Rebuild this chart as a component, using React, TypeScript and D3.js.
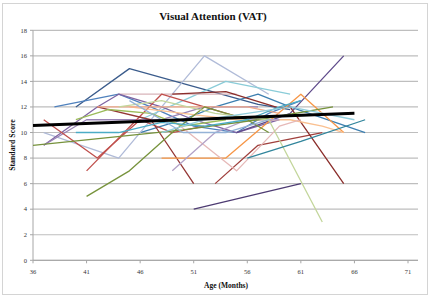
import React from "react";
import * as d3 from "d3";

// Age (months) and VAT standard score per child, one entry per child
const ageSeries: number[][] = [
  [40, 45, 57, 60],
  [38, 44, 47, 51, 55, 58, 61],
  [46, 50, 53, 57, 60, 67],
  [37, 44, 52, 58],
  [46, 50, 54, 60],
  [44, 55],
  [37, 42, 44, 48, 51, 55, 59],
  [37, 41, 44, 48, 52, 57],
  [51, 61],
  [55, 60, 65],
  [37, 42, 46, 49, 52],
  [41, 48, 52, 56],
  [42, 47, 51],
  [53, 57, 63],
  [49, 54, 59, 60, 65],
  [48, 54, 61, 65],
  [45, 50, 55, 60, 63, 65],
  [49, 55, 59, 61],
  [42, 48, 52, 56, 59],
  [49, 53, 56, 59],
  [41, 45, 49, 52, 56, 58],
  [36, 50, 57, 64],
  [44, 48, 53, 58, 63],
  [40, 43, 47, 50, 54],
  [56, 61, 67],
  [40, 44, 48, 52, 56, 59, 61],
  [48, 52, 56, 60, 66],
  [45, 48, 50, 54, 58],
];

const scoreSeries: number[][] = [
  [12, 15, 12.2, 11.8],
  [12, 13, 12, 10.5, 10, 11.5, 12.5],
  [10, 11, 12, 13, 12, 10],
  [10, 8, 16, 13],
  [11, 12.5, 14, 13],
  [13, 13],
  [9, 12, 13, 12, 11, 10, 11],
  [9, 11, 11, 11, 12, 12],
  [4, 6],
  [10, 11.5, 16],
  [11, 8, 11, 10, 10.5],
  [7, 13, 12, 11],
  [12, 11, 6],
  [6, 9, 10],
  [13, 13.2, 11.9, 12, 6],
  [8, 8, 13, 10],
  [12, 11.5, 11, 11, 10.5, 10],
  [11, 7, 10.5, 11],
  [12, 12, 12, 12, 11.5],
  [7, 10, 11, 11],
  [5, 7, 10, 12, 11, 10],
  [9, 10.2, 11, 12],
  [12, 12.5, 11.5, 11, 3],
  [11, 11.8, 11.5, 10.5, 11],
  [8, 9.3, 11],
  [10, 10, 10.8, 10.5, 11, 12, 12.5],
  [10, 11, 11.5, 12, 11],
  [12.5, 11, 10, 10, 11],
];

const seriesColors: string[] = [
  "#3B5C8C", "#4F81BD", "#3D7FB0", "#B0BBD8", "#8ACCD8", "#D8B4BA",
  "#8064A2", "#9983B5", "#4D3B72", "#5F4B8B", "#C0504D", "#C0504D",
  "#953735", "#A0403D", "#8B2E2B", "#F79646", "#FAC090", "#E6B9B8",
  "#F2A989", "#B3A2C7", "#77933C", "#76923C", "#C3D69B", "#9BBB59",
  "#31859C", "#4BACC6", "#92CDDC", "#95B3D7",
];

// Linear trend across all children
const trendAges = [36, 66];
const trendScores = [10.55, 11.5];

const xTicks = [36, 41, 46, 51, 56, 61, 66, 71];
const yTicks = [0, 2, 4, 6, 8, 10, 12, 14, 16, 18];

const W = 431;
const H = 297;
const plotLeft = 33;
const plotRight = 418;
const plotTop = 30.3;
const plotBottom = 260.3;

export default function App() {
  const x = d3.scaleLinear().domain([36, 71]).range([plotLeft, 408]);
  const y = d3.scaleLinear().domain([0, 18]).range([plotBottom, plotTop]);

  const line = d3
    .line<[number, number]>()
    .x((d) => x(d[0]))
    .y((d) => y(d[1]));

  const serif = "'Liberation Serif', 'Times New Roman', serif";

  return (
    <svg
      width={W}
      height={H}
      viewBox={`0 0 ${W} ${H}`}
      style={{ position: "absolute", left: 0, top: 0, background: "#fff" }}
    >
      <rect x={0} y={0} width={W} height={H} fill="#fff" />
      <rect x={2.5} y={3.5} width={425} height={291} fill="none" stroke="#D4D4D4" strokeWidth={1} />

      {/* horizontal gridlines */}
      {yTicks.map((t) => (
        <line
          key={`g${t}`}
          x1={plotLeft}
          x2={plotRight}
          y1={y(t)}
          y2={y(t)}
          stroke="#BEBEBE"
          strokeWidth={1.2}
        />
      ))}

      {/* axes */}
      <line x1={plotLeft} x2={plotLeft} y1={plotTop} y2={plotBottom} stroke="#A6A6A6" strokeWidth={1} />
      <line x1={plotLeft} x2={plotRight} y1={plotBottom} y2={plotBottom} stroke="#A6A6A6" strokeWidth={1} />
      {yTicks.map((t) => (
        <line key={`yt${t}`} x1={plotLeft - 3} x2={plotLeft} y1={y(t)} y2={y(t)} stroke="#A6A6A6" />
      ))}
      {xTicks.map((t) => (
        <line key={`xt${t}`} x1={x(t)} x2={x(t)} y1={plotBottom} y2={plotBottom + 3} stroke="#A6A6A6" />
      ))}

      {/* tick labels */}
      {yTicks.map((t) => (
        <text
          key={`yl${t}`}
          x={27}
          y={y(t)}
          dy="0.35em"
          textAnchor="end"
          fontFamily={serif}
          fontSize={6.5}
          fill="#333"
        >
          {t}
        </text>
      ))}
      {xTicks.map((t) => (
        <text
          key={`xl${t}`}
          x={x(t)}
          y={274}
          textAnchor="middle"
          fontFamily={serif}
          fontSize={6.5}
          fill="#333"
        >
          {t}
        </text>
      ))}

      {/* individual trajectories */}
      {ageSeries.map((ages, i) => {
        const pts = ages.map((a, j) => [a, scoreSeries[i][j]] as [number, number]);
        return (
          <path
            key={`s${i}`}
            d={line(pts) ?? ""}
            fill="none"
            stroke={seriesColors[i]}
            strokeWidth={1.3}
            strokeLinejoin="round"
          />
        );
      })}

      {/* trend line */}
      <path
        d={line(trendAges.map((a, j) => [a, trendScores[j]] as [number, number])) ?? ""}
        fill="none"
        stroke="#000"
        strokeWidth={3}
      />

      {/* titles */}
      <text x={213} y={20} textAnchor="middle" fontFamily={serif} fontWeight="bold" fontSize={11} fill="#111">
        Visual Attention (VAT)
      </text>
      <text
        x={0}
        y={0}
        transform={`translate(14.5, 145) rotate(-90)`}
        textAnchor="middle"
        fontFamily={serif}
        fontWeight="bold"
        fontSize={7.8}
        fill="#111"
      >
        Standard Score
      </text>
      <text x={226} y={288} textAnchor="middle" fontFamily={serif} fontWeight="bold" fontSize={7.5} fill="#111">
        Age (Months)
      </text>
    </svg>
  );
}
